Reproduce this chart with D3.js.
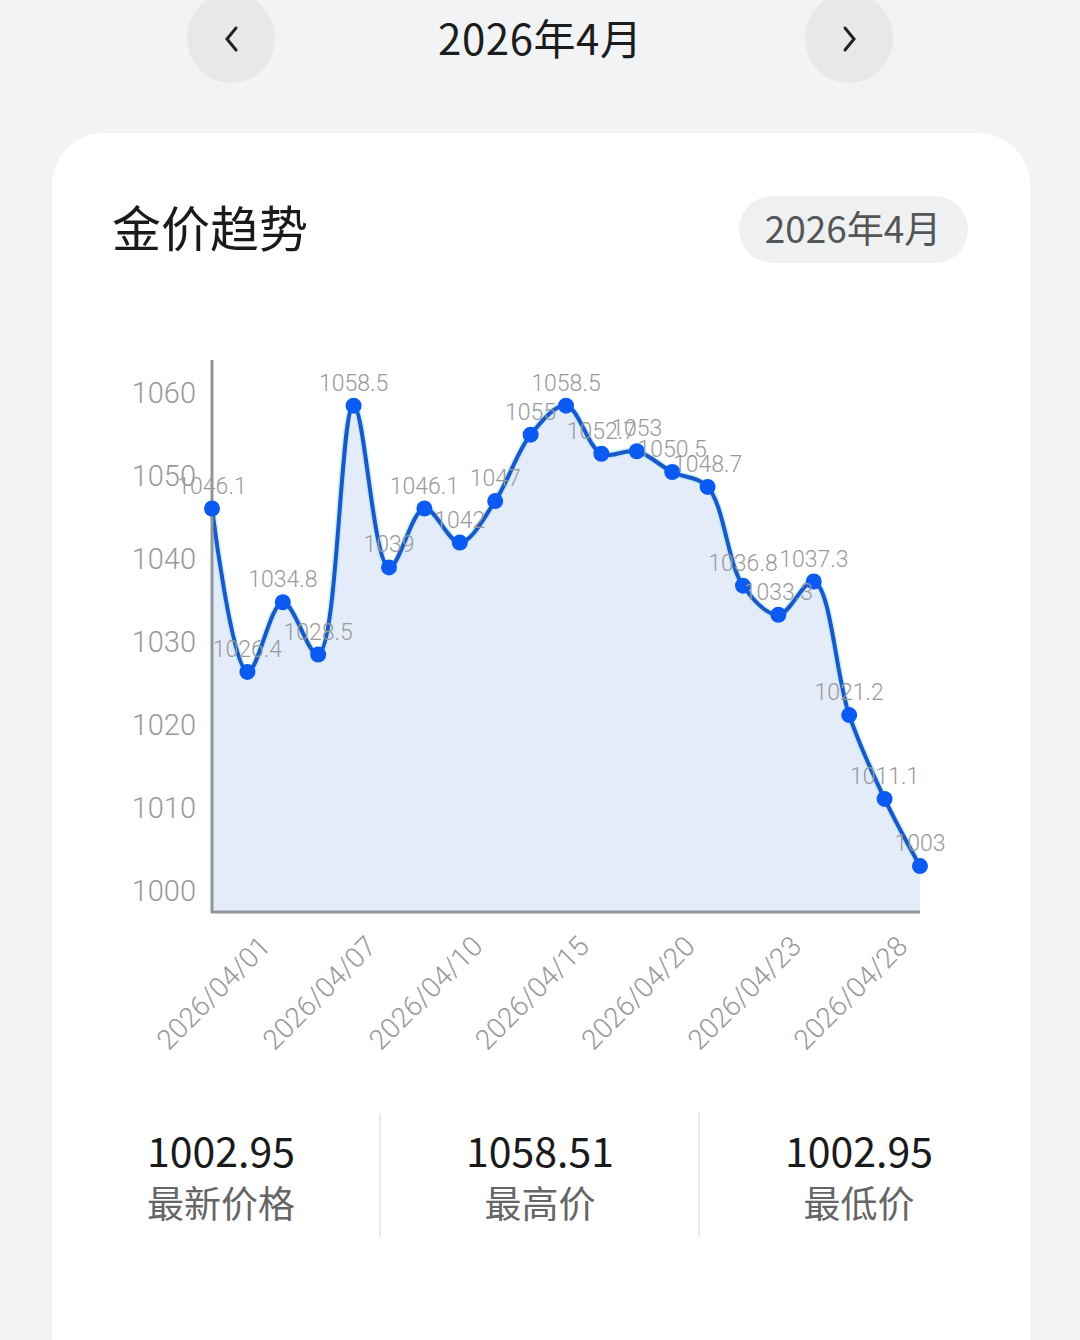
<!DOCTYPE html>
<html><head><meta charset="utf-8">
<script src="https://cdn.jsdelivr.net/npm/d3@7"></script>
<style>
html,body{margin:0;padding:0;background:#f2f3f5;}
svg{display:block;}
</style></head>
<body>
<svg id="c" width="1080" height="1340"></svg>
<script>
const dates = ['2026/04/01','2026/04/02','2026/04/03','2026/04/07','2026/04/08','2026/04/09','2026/04/10','2026/04/13','2026/04/14','2026/04/15','2026/04/16','2026/04/17','2026/04/20','2026/04/21','2026/04/22','2026/04/23','2026/04/24','2026/04/27','2026/04/28','2026/04/29','2026/04/30'];
const prices = [1046.1,1026.4,1034.8,1028.5,1058.5,1039,1046.1,1042,1047,1055,1058.5,1052.7,1053,1050.5,1048.7,1036.8,1033.3,1037.3,1021.2,1011.1,1003];
const yTicks = [1000,1010,1020,1030,1040,1050,1060];
const statValues = ['1002.95','1058.51','1002.95'];
const statLabels = ['最新价格','最高价','最低价'];
const monthLabel = '2026年4月';
const titleText = '金价趋势';

const FONT = "'Noto Sans CJK SC','Noto Sans',sans-serif";
const NUMFONT = "Roboto,'Noto Sans',sans-serif";
const svg = d3.select('#c');

// header
svg.append('rect').attr('width',1080).attr('height',1340).attr('fill','#f2f3f5');
[231,849].forEach(cx=>{
  svg.append('ellipse').attr('cx',cx).attr('cy',38).attr('rx',44).attr('ry',45).attr('fill','#e7e8ea');
});
svg.append('path').attr('d','M236,28 L227,39 L236,50').attr('fill','none').attr('stroke','#222').attr('stroke-width',3).attr('stroke-linecap','round');
svg.append('path').attr('d','M845,28 L854,39 L845,50').attr('fill','none').attr('stroke','#222').attr('stroke-width',3).attr('stroke-linecap','round');
svg.append('text').attr('x',540).attr('y',55).attr('text-anchor','middle').attr('font-family',FONT).attr('font-size',42).attr('fill','#1c1c1c').attr('textLength',204).text(monthLabel);

// card
svg.append('rect').attr('x',52).attr('y',133).attr('width',978).attr('height',1300).attr('rx',52).attr('fill','#ffffff');
svg.append('text').attr('x',112).attr('y',247).attr('font-family',FONT).attr('font-size',49).attr('fill','#1a1a1a').text(titleText);
svg.append('rect').attr('x',739).attr('y',196).attr('width',229).attr('height',67).attr('rx',33.5).attr('fill','#eff0f2');
svg.append('text').attr('x',853).attr('y',243).attr('text-anchor','middle').attr('font-family',FONT).attr('font-size',37).attr('fill','#555').text(monthLabel);

// chart
const x = d3.scalePoint().domain(dates).range([212,920]);
const y = d3.scaleLinear().domain([997.47,1064]).range([912,360]);
const g = svg.append('g');

const curve = d3.curveCatmullRom.alpha(0.5);
const area = d3.area().x((d,i)=>x(dates[i])).y0(y(997.47)).y1(d=>y(d)).curve(curve);
const line = d3.line().x((d,i)=>x(dates[i])).y(d=>y(d)).curve(curve);

g.append('path').datum(prices).attr('d',area).attr('fill','#e4ecfa');
g.append('path').datum(prices).attr('d',line).attr('fill','none').attr('stroke','#a6e4ff').attr('stroke-width',7).attr('stroke-opacity',0.6);
g.append('path').datum(prices).attr('d',line).attr('fill','none').attr('stroke','#1b58c6').attr('stroke-width',4);

// axes
const yAxis = d3.axisLeft(y).tickValues(yTicks).tickFormat(d3.format('d')).tickSize(0).tickPadding(16);
const ya = g.append('g').attr('transform','translate(212,0)').call(yAxis);
ya.select('.domain').remove();
ya.selectAll('text').attr('font-family',NUMFONT).attr('font-size',29).attr('font-weight',300).attr('fill','#999');
g.append('line').attr('x1',212).attr('x2',212).attr('y1',360).attr('y2',913).attr('stroke','#8f959e').attr('stroke-width',3);

const xAxis = d3.axisBottom(x).tickValues(dates.filter((d,i)=>i%3===0)).tickSize(0).tickPadding(0);
const xa = g.append('g').attr('transform','translate(0,912)').call(xAxis);
xa.select('.domain').remove();
xa.selectAll('text').attr('font-family',NUMFONT).attr('font-size',28).attr('font-weight',300).attr('fill','#999')
  .attr('text-anchor','middle').attr('dy',null).attr('y',0)
  .attr('transform','translate(1,81) rotate(-45)').attr('dominant-baseline','central');
g.append('line').attr('x1',211).attr('x2',920).attr('y1',912).attr('y2',912).attr('stroke','#8f959e').attr('stroke-width',3);

// points
g.selectAll('circle.pt').data(prices).enter().append('circle').attr('class','pt')
  .attr('cx',(d,i)=>x(dates[i])).attr('cy',d=>y(d)).attr('r',8).attr('fill','#0b5bf3');
g.selectAll('text.lbl').data(prices).enter().append('text').attr('class','lbl')
  .attr('x',(d,i)=>x(dates[i])).attr('y',d=>y(d)-15).attr('text-anchor','middle')
  .attr('font-family',NUMFONT).attr('font-size',23).attr('font-weight',300).attr('fill','#999')
  .text(d=>d3.format('~f')(d));

// stats
const cols = [221,540,859];
cols.forEach((cx,i)=>{
  svg.append('text').attr('x',cx).attr('y',1167).attr('text-anchor','middle').attr('font-family',FONT).attr('font-size',41).attr('fill','#1a1a1a').text(statValues[i]);
  svg.append('text').attr('x',cx).attr('y',1218).attr('text-anchor','middle').attr('font-family',FONT).attr('font-size',37).attr('fill','#666').text(statLabels[i]);
});
[380,699].forEach(xx=>svg.append('line').attr('x1',xx).attr('x2',xx).attr('y1',1113).attr('y2',1237).attr('stroke','#e2e2e2').attr('stroke-width',1.5));
</script>
</body></html>
